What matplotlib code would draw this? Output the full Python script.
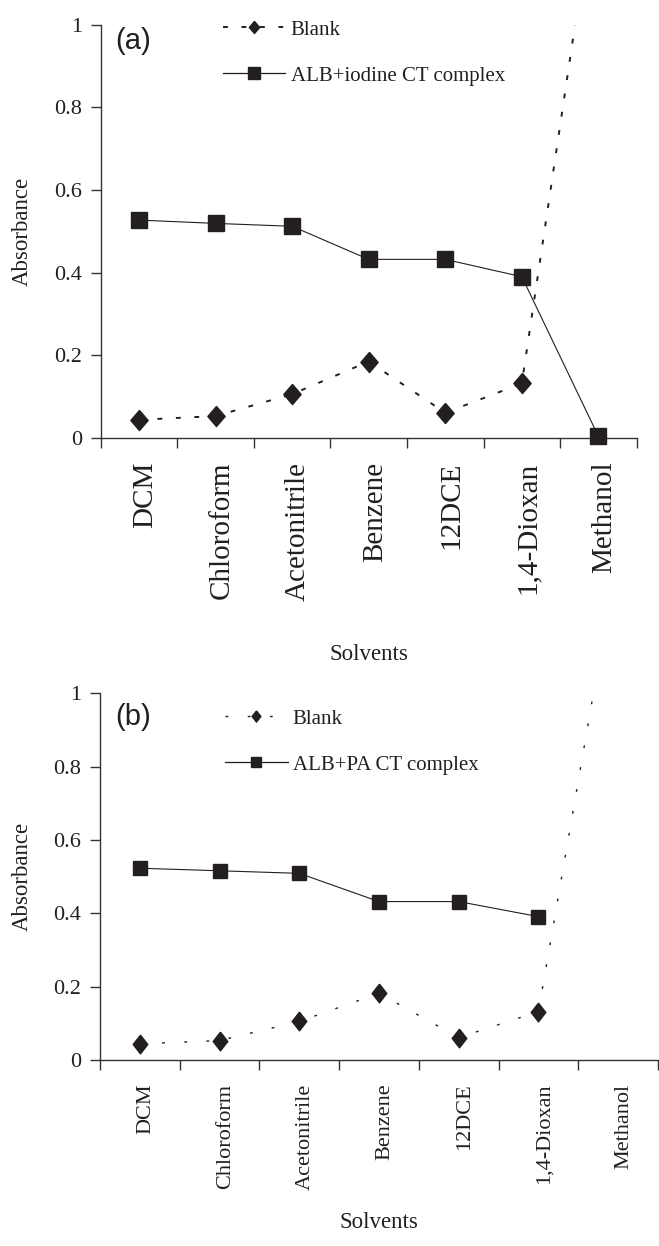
import numpy as np
import matplotlib
matplotlib.use('Agg')
import matplotlib.pyplot as plt
from matplotlib.lines import Line2D
import matplotlib.transforms as mtransforms

# ---------------- data ----------------
solvents = ['DCM', 'Chloroform', 'Acetonitrile', 'Benzene', '12DCE', '1,4-Dioxan', 'Methanol']
blank_a = [0.044, 0.053, 0.106, 0.185, 0.061, 0.132, 1.38]
iodine_complex = [0.527, 0.519, 0.512, 0.432, 0.432, 0.390, 0.004]
blank_b = [0.044, 0.053, 0.105, 0.182, 0.061, 0.132, 1.39]
pa_complex = [0.523, 0.516, 0.509, 0.432, 0.432, 0.391, np.nan]
yticks = [0, 0.2, 0.4, 0.6, 0.8, 1.0]
ytick_labels = ['0', '0.2', '0.4', '0.6', '0.8', '1']

INK = '#231f20'
AXC = '#333333'
SERIF = ['Liberation Serif', 'DejaVu Serif']
SANS = ['Liberation Sans', 'DejaVu Sans']

plt.rcParams['font.family'] = SERIF

fig = plt.figure(figsize=(6.59, 12.46), dpi=100)


def diamond(ratio):
    return [(0, 1), (ratio, 0), (0, -1), (-ratio, 0), (0, 1)]


def panel(rect, blank, complex_vals, tag, complex_label, blank_dash, blank_lw,
          dia_ms, dia_ratio, sq_ms, leg_anchor, leg_spacing, tag_xy,
          xlabel_y, ylabel_x, cat_size):
    ax = fig.add_axes(rect)
    n = len(solvents)
    xs = np.arange(n) + 0.5

    # blank series (dotted line with diamonds, runs off the top at Methanol)
    ax.plot(xs, blank, color=INK, lw=blank_lw, linestyle=(0, blank_dash),
            dash_capstyle='butt', marker=diamond(dia_ratio), ms=dia_ms,
            mfc=INK, mec=INK, clip_on=True, zorder=3)

    # complex series
    ax.plot(xs, complex_vals, color=INK, lw=0.8, marker='s', ms=sq_ms,
            mfc=INK, mec=INK, clip_on=False, zorder=4)

    ax.set_xlim(0, n)
    ax.set_ylim(0, 1)

    for s in ['top', 'right']:
        ax.spines[s].set_visible(False)
    for s in ['left', 'bottom']:
        ax.spines[s].set_color(AXC)
        ax.spines[s].set_linewidth(1.0)

    ax.set_yticks(yticks)
    ax.set_yticklabels(ytick_labels)
    ax.tick_params(axis='y', direction='out', length=7, width=1.0, color=AXC,
                   pad=6.5, labelsize=16, labelcolor=INK)

    ax.set_xticks(xs)
    ax.set_xticklabels(solvents, rotation=90, ha='center', va='top')
    ax.tick_params(axis='x', which='major', length=0, pad=17,
                   labelsize=cat_size, labelcolor=INK)
    ax.set_xticks(np.arange(n + 1), minor=True)
    ax.tick_params(axis='x', which='minor', direction='out', length=7,
                   width=1.0, color=AXC)
    off = mtransforms.ScaledTranslation(6 / 100, 0, fig.dpi_scale_trans)
    for lab in ax.get_xticklabels():
        lab.set_transform(lab.get_transform() + off)

    ax.set_xlabel('Solvents', fontsize=16.5, color=INK, va='center')
    ax.xaxis.set_label_coords(0.5, xlabel_y)
    ax.set_ylabel('Absorbance', fontsize=16.5, color=INK, va='center')
    ax.yaxis.set_label_coords(ylabel_x, 0.5)

    ax.text(tag_xy[0], tag_xy[1], tag, transform=ax.transAxes,
            family=SANS, fontsize=21, color=INK, ha='left', va='center')

    handles = [
        Line2D([], [], color=INK, lw=blank_lw, linestyle=(0, blank_dash),
               marker=diamond(dia_ratio), ms=dia_ms * 0.6, mfc=INK, mec=INK),
        Line2D([], [], color=INK, lw=0.9, marker='s', ms=sq_ms * 0.65,
               mfc=INK, mec=INK),
    ]
    ax.legend(handles, ['Blank', complex_label], loc='upper left',
              bbox_to_anchor=leg_anchor, bbox_transform=fig.transFigure,
              frameon=False, borderpad=0, borderaxespad=0,
              handlelength=3.0, handletextpad=0.25,
              labelspacing=leg_spacing,
              prop={'family': SERIF, 'size': 15}, labelcolor=INK)
    return ax


# panel (a)
panel(rect=[100.7 / 659, 1 - 438 / 1246, 536 / 659, 413.5 / 1246],
      blank=blank_a, complex_vals=iodine_complex, tag='(a)',
      complex_label='ALB+iodine CT complex', blank_dash=(2.5, 7), blank_lw=1.4,
      dia_ms=14.5, dia_ratio=0.86, sq_ms=12.2,
      leg_anchor=(222.8 / 659, 1 - 20.0 / 1246), leg_spacing=1.27,
      tag_xy=(0.0276, 0.960), xlabel_y=(438 - 655) / 413.5,
      ylabel_x=(22 - 100.7) / 536, cat_size=21)

# panel (b)
panel(rect=[100 / 659, 1 - 1060 / 1246, 558 / 659, 366.7 / 1246],
      blank=blank_b, complex_vals=pa_complex, tag='(b)',
      complex_label='ALB+PA CT complex', blank_dash=(2, 14), blank_lw=1.0,
      dia_ms=13.5, dia_ratio=0.78, sq_ms=10.3,
      leg_anchor=(225 / 659, 1 - 709.0 / 1246), leg_spacing=1.27,
      tag_xy=(0.0277, 0.936), xlabel_y=(1060 - 1222) / 366.7,
      ylabel_x=(22 - 100) / 558, cat_size=16)

fig.savefig('out.png', dpi=100)
